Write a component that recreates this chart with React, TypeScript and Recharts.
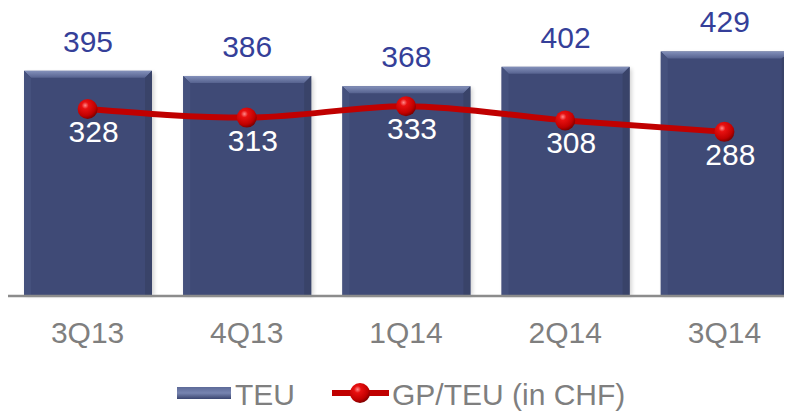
import React from "react";
import {
  ComposedChart,
  Bar,
  Line,
  XAxis,
  YAxis,
  Legend,
  LabelList,
} from "recharts";

const quarters = ["3Q13", "4Q13", "1Q14", "2Q14", "3Q14"];
const teu = [395, 386, 368, 402, 429];
const gpPerTeu = [328, 313, 333, 308, 288];

const data = quarters.map((q, i) => ({ q, teu: teu[i], gp: gpPerTeu[i] }));

const FONT = "'Liberation Sans', Arial, sans-serif";
const BAR = "#3f4a76";
const LABEL_BLUE = "#353f99";
const GREY = "#7f7f7f";
const RED = "#c00000";

const BevelBar = (props: any) => {
  const { x, y, width: w, height: h } = props;
  const b = 7;
  return (
    <g>
      <rect x={x + 2} y={y + 2} width={w} height={h - 2} fill="#000" opacity={0.18} filter="url(#barShadow)" />
      <rect x={x} y={y} width={w} height={h} fill={BAR} />
      <polygon points={`${x},${y} ${x + w},${y} ${x + w - b},${y + b} ${x + b},${y + b}`} fill="url(#bevelTop)" />
      <polygon points={`${x},${y} ${x + b},${y + b} ${x + b},${y + h} ${x},${y + h}`} fill="#45517d" />
      <polygon points={`${x + w},${y} ${x + w - b},${y + b} ${x + w - b},${y + h} ${x + w},${y + h}`} fill="#394369" />
    </g>
  );
};

const RedDot = (props: any) => {
  const { cx, cy } = props;
  if (cx == null || cy == null) return null;
  return <circle cx={cx} cy={cy} r={10} fill="url(#sphere)" />;
};

const barLabel = (props: any) => {
  const { x, y, width, value } = props;
  return (
    <text x={x + width / 2} y={y - 19} textAnchor="middle" fontSize={30} fill={LABEL_BLUE} fontFamily={FONT}>
      {value}
    </text>
  );
};

const lineLabel = (props: any) => {
  const { x, y, value } = props;
  return (
    <text x={x + 6} y={y + 33} textAnchor="middle" fontSize={30} fill="#ffffff" fontFamily={FONT}>
      {value}
    </text>
  );
};

const LegendContent = () => (
  <div
    style={{
      height: 55,
      boxSizing: "border-box",
      paddingTop: 23,
      paddingLeft: 169,
      display: "flex",
      alignItems: "center",
      fontFamily: FONT,
      fontSize: 30,
      lineHeight: "30px",
      color: GREY,
    }}
  >
    <svg width={54} height={12} style={{ marginRight: 4, marginTop: -4 }}>
      <defs>
        <linearGradient id="legBar" x1="0" y1="0" x2="0" y2="1">
          <stop offset="0" stopColor="#5d6a98" />
          <stop offset="0.5" stopColor="#7784b0" />
          <stop offset="1" stopColor="#3a4570" />
        </linearGradient>
      </defs>
      <rect x={0} y={0} width={54} height={12} fill="url(#legBar)" />
    </svg>
    <span>TEU</span>
    <svg width={57} height={22} style={{ marginLeft: 37, marginRight: 3, marginTop: -4 }}>
      <line x1={0} y1={11} x2={57} y2={11} stroke={RED} strokeWidth={6} />
      <circle cx={28} cy={11} r={10} fill="url(#sphere)" />
    </svg>
    <span>GP/TEU (in CHF)</span>
  </div>
);

export default function App() {
  return (
    <div style={{ width: 784, height: 411, marginTop: -8, overflow: "hidden" }}>
      <ComposedChart
        width={796}
        height={411}
        data={data}
        margin={{ top: 11, right: 0, left: 0, bottom: 0 }}
        style={{ fontFamily: FONT }}
      >
        <defs>
          <linearGradient id="bevelTop" x1="0" y1="0" x2="0" y2="1">
            <stop offset="0" stopColor="#8390ba" />
            <stop offset="1" stopColor="#56628f" />
          </linearGradient>
          <radialGradient id="sphere" cx="0.38" cy="0.32" r="0.7">
            <stop offset="0" stopColor="#ff8a8a" />
            <stop offset="0.25" stopColor="#e81010" />
            <stop offset="0.75" stopColor="#c00000" />
            <stop offset="1" stopColor="#7a0000" />
          </radialGradient>
          <filter id="barShadow" x="-10%" y="-10%" width="120%" height="120%">
            <feGaussianBlur stdDeviation="2" />
          </filter>
        </defs>
        <XAxis
          dataKey="q"
          height={60}
          tickLine={false}
          tickMargin={20}
          axisLine={{ stroke: "#8c8c8c", strokeWidth: 2.5 }}
          tick={{ fontSize: 30, fill: GREY, fontFamily: FONT }}
          interval={0}
        />
        <YAxis hide domain={[0, 500]} />
        <Legend verticalAlign="bottom" height={55} content={<LegendContent />} />
        <Bar dataKey="teu" barSize={128} shape={<BevelBar />} isAnimationActive={false}>
          <LabelList dataKey="teu" content={barLabel} />
        </Bar>
        <Line
          dataKey="gp"
          type="monotone"
          stroke={RED}
          strokeWidth={6}
          dot={<RedDot />}
          activeDot={false}
          isAnimationActive={false}
        >
          <LabelList dataKey="gp" content={lineLabel} />
        </Line>
      </ComposedChart>
    </div>
  );
}
